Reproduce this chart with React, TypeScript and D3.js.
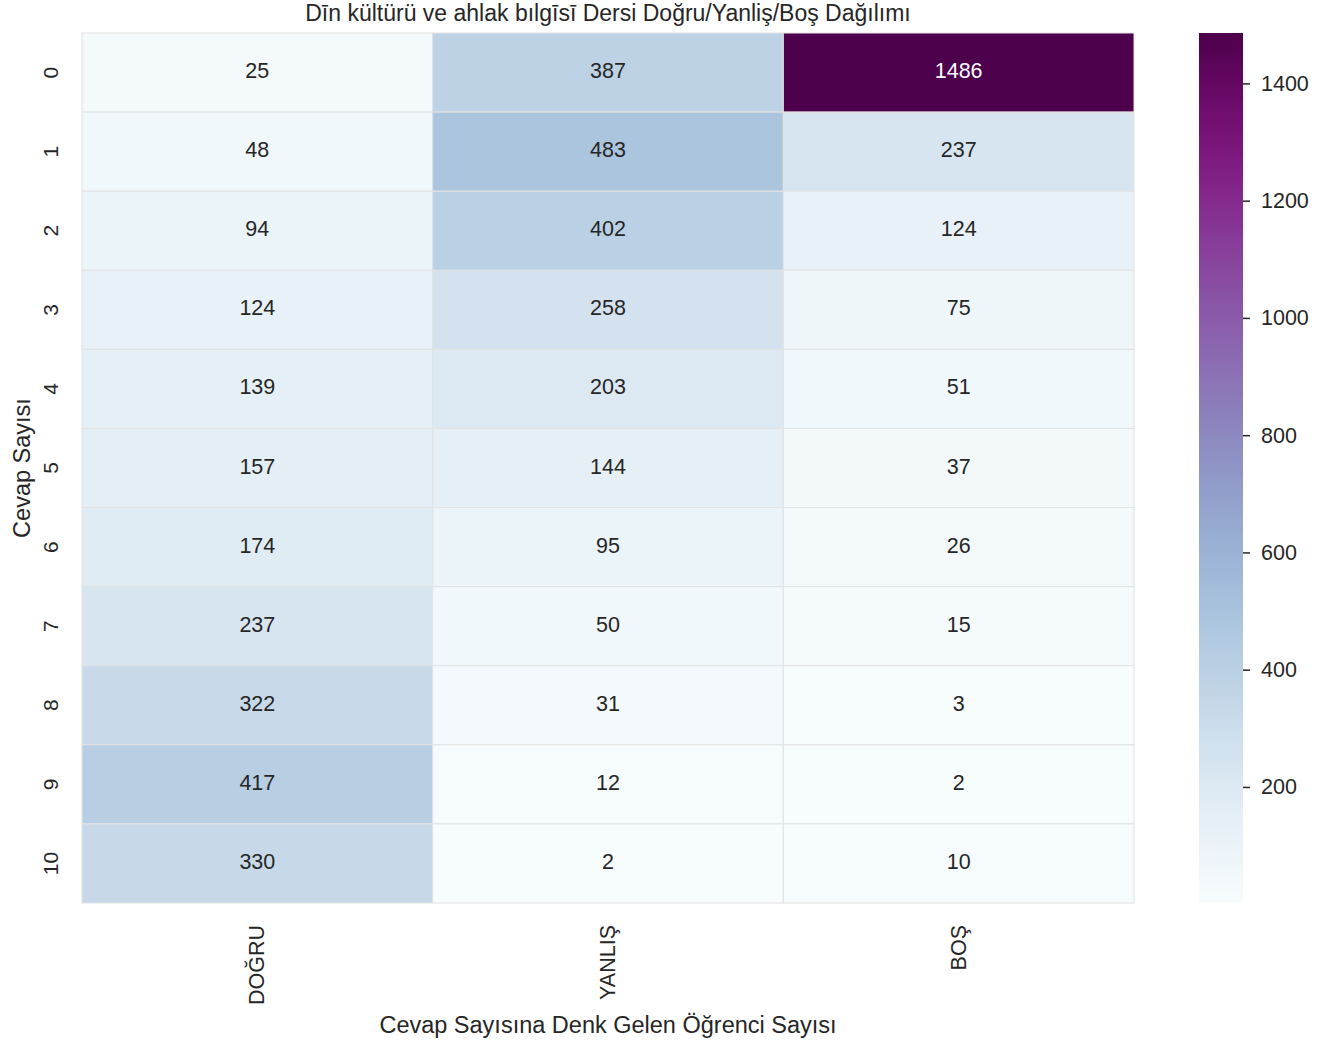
import { useEffect, useRef } from "react";
import * as d3 from "d3";

// satırlar: cevap sayısı 0..10, sütunlar: doğru / yanlış / boş
const rowLabels = ["0", "1", "2", "3", "4", "5", "6", "7", "8", "9", "10"];
const colLabels = ["DOĞRU", "YANLIŞ", "BOŞ"];
const dogru = [25, 48, 94, 124, 139, 157, 174, 237, 322, 417, 330];
const yanlis = [387, 483, 402, 258, 203, 144, 95, 50, 31, 12, 2];
const bos = [1486, 237, 124, 75, 51, 37, 26, 15, 3, 2, 10];
const cbarTicks = [200, 400, 600, 800, 1000, 1200, 1400];

const W = 1341;
const H = 1045;
const FONT = "'Liberation Sans', Arial, sans-serif";

const App = () => {
  const ref = useRef<SVGSVGElement>(null);

  useEffect(() => {
    const svg = d3.select(ref.current);
    svg.selectAll("*").remove();

    const left = 82,
      right = 1134,
      top = 33,
      bottom = 903;

    const series = [dogru, yanlis, bos];
    const cells: { r: number; c: number; v: number }[] = [];
    series.forEach((s, c) => s.forEach((v, r) => cells.push({ r, c, v })));

    const vmin = d3.min(cells, (d) => d.v) as number;
    const vmax = d3.max(cells, (d) => d.v) as number;
    const color = d3.scaleSequential(d3.interpolateBuPu).domain([vmin, vmax]);

    const x = d3.scaleBand(colLabels, [left, right]);
    const y = d3.scaleBand(rowLabels, [top, bottom]);

    // hücreler
    svg
      .append("g")
      .selectAll("rect")
      .data(cells)
      .enter()
      .append("rect")
      .attr("x", (d) => x(colLabels[d.c]) as number)
      .attr("y", (d) => y(rowLabels[d.r]) as number)
      .attr("width", x.bandwidth())
      .attr("height", y.bandwidth())
      .attr("fill", (d) => color(d.v))
      .attr("stroke", "#e2e2e2")
      .attr("stroke-width", 1);

    // hücre değerleri
    svg
      .append("g")
      .selectAll("text")
      .data(cells)
      .enter()
      .append("text")
      .attr("x", (d) => (x(colLabels[d.c]) as number) + x.bandwidth() / 2)
      .attr("y", (d) => (y(rowLabels[d.r]) as number) + y.bandwidth() / 2 - 1.5)
      .attr("text-anchor", "middle")
      .attr("dominant-baseline", "central")
      .attr("font-family", FONT)
      .attr("font-size", 21.5)
      .attr("fill", (d) => {
        const lum = d3.hsl(color(d.v)).l;
        return lum < 0.45 ? "#ffffff" : "#262626";
      })
      .text((d) => d.v);

    // y ekseni etiketleri (döndürülmüş)
    svg
      .append("g")
      .selectAll("text")
      .data(rowLabels)
      .enter()
      .append("text")
      .attr("transform", (d) => {
        const cy = (y(d) as number) + y.bandwidth() / 2;
        return `translate(${50},${cy}) rotate(-90)`;
      })
      .attr("text-anchor", "middle")
      .attr("dominant-baseline", "central")
      .attr("font-family", FONT)
      .attr("font-size", 21)
      .attr("fill", "#262626")
      .text((d) => d);

    // x ekseni etiketleri
    svg
      .append("g")
      .selectAll("text")
      .data(colLabels)
      .enter()
      .append("text")
      .attr("transform", (d) => {
        const cx = (x(d) as number) + x.bandwidth() / 2;
        return `translate(${cx},${925}) rotate(-90)`;
      })
      .attr("text-anchor", "end")
      .attr("dominant-baseline", "central")
      .attr("font-family", FONT)
      .attr("font-size", 21.5)
      .attr("fill", "#262626")
      .text((d) => d);

    // başlık ve eksen adları
    svg
      .append("text")
      .attr("x", (left + right) / 2)
      .attr("y", 21)
      .attr("text-anchor", "middle")
      .attr("font-family", FONT)
      .attr("font-size", 23)
      .attr("fill", "#262626")
      .text("Dīn kültürü ve ahlak bılgīsī Dersi Doğru/Yanliş/Boş Dağılımı");

    svg
      .append("text")
      .attr("x", (left + right) / 2)
      .attr("y", 1033)
      .attr("text-anchor", "middle")
      .attr("font-family", FONT)
      .attr("font-size", 23.5)
      .attr("fill", "#262626")
      .text("Cevap Sayısına Denk Gelen Öğrenci Sayısı");

    svg
      .append("text")
      .attr("transform", `translate(30,${(top + bottom) / 2}) rotate(-90)`)
      .attr("text-anchor", "middle")
      .attr("font-family", FONT)
      .attr("font-size", 23.5)
      .attr("fill", "#262626")
      .text("Cevap Sayısı");

    // renk çubuğu
    const cbX = 1199,
      cbW = 44;
    const cy = d3.scaleLinear([vmin, vmax], [bottom, top]);
    const grad = svg
      .append("defs")
      .append("linearGradient")
      .attr("id", "cbar")
      .attr("x1", 0)
      .attr("y1", 1)
      .attr("x2", 0)
      .attr("y2", 0);
    d3.range(0, 1.0001, 0.02).forEach((t) => {
      grad
        .append("stop")
        .attr("offset", t)
        .attr("stop-color", d3.interpolateBuPu(t));
    });
    svg
      .append("rect")
      .attr("x", cbX)
      .attr("y", top)
      .attr("width", cbW)
      .attr("height", bottom - top)
      .attr("fill", "url(#cbar)");

    const axis = svg
      .append("g")
      .attr("transform", `translate(${cbX + cbW},0)`)
      .call(
        d3
          .axisRight(cy)
          .tickValues(cbarTicks)
          .tickFormat(d3.format("d"))
          .tickSize(7)
          .tickPadding(11)
      );
    axis.select(".domain").remove();
    axis.selectAll("line").attr("stroke", "#262626").attr("stroke-width", 1.5);
    axis
      .selectAll("text")
      .attr("font-family", FONT)
      .attr("font-size", 21.5)
      .attr("fill", "#262626");
  }, []);

  return (
    <svg
      ref={ref}
      width={W}
      height={H}
      style={{ position: "absolute", left: 0, top: 0, background: "#ffffff" }}
    />
  );
};

export default App;
